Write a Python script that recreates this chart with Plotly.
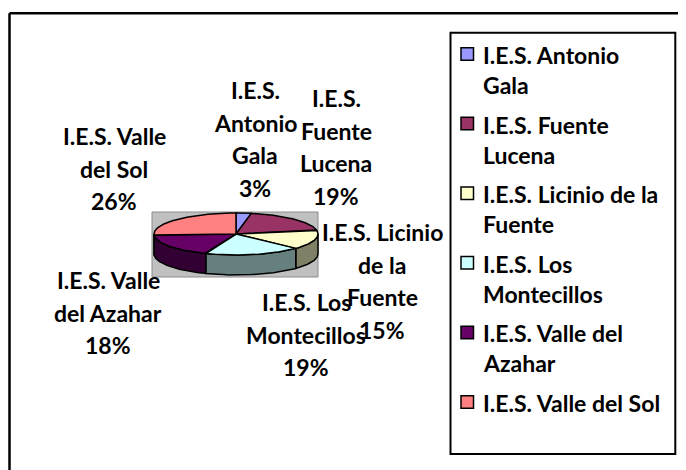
import numpy as np
import plotly.graph_objects as go

# ---------------- data ----------------
schools = [
    "I.E.S. Antonio Gala",
    "I.E.S. Fuente Lucena",
    "I.E.S. Licinio de la Fuente",
    "I.E.S. Los Montecillos",
    "I.E.S. Valle del Azahar",
    "I.E.S. Valle del Sol",
]
shares = [3, 19, 15, 19, 18, 26]  # percent
top_colors = ["#9999FF", "#993366", "#FFFFCC", "#CCFFFF", "#660066", "#FF8080"]

# Excel's word wrapping (words per line) for data labels and legend entries
label_wrap = [[1, 1, 1], [1, 1, 1], [2, 2, 1], [2, 1], [2, 2], [2, 2]]
legend_wrap = [[2, 1], [2, 1], [4, 1], [2, 1], [3, 1], [4]]

# ---------------- layout constants (page pixels) ----------------
W, H = 686, 470
BODY = 8  # default page margin of the html body
CX, CY, RX, RY, DEPTH = 236, 234, 82, 21, 20
FONT = dict(family="Lato, 'Open Sans', sans-serif", size=23, color="black", weight="bold")
LABEL_ANCHORS = [(255, 90), (336, 98), (382, 232), (306, 302), (108, 280), (114, 136)]
LABEL_PITCH = 32.5
LEG_BOX = (450.5, 32.8, 675.3, 454)
LEG_SQ_X, LEG_TXT_X, LEG_Y0, LEG_ITEM, LEG_LINE, SQ = 461, 481, 55, 69.6, 30, 12.5


def shade(hexcol, f=0.5):
    h = hexcol.lstrip("#")
    r, g, b = (int(h[i:i + 2], 16) for i in (0, 2, 4))
    return "#%02X%02X%02X" % (round(r * f), round(g * f), round(b * f))


def wrap(text, counts):
    words = text.split()
    out, i = [], 0
    for c in counts:
        out.append(" ".join(words[i:i + c]))
        i += c
    return out


def rim(theta_deg, dy=0.0):
    t = np.radians(theta_deg)
    return CX + RX * np.sin(t), CY - RY * np.cos(t) + dy


fig = go.Figure()

total = float(sum(shares))
bounds = np.concatenate([[0.0], np.cumsum(shares) / total * 360.0])

# side faces (front half only: 90..270 degrees)
for i, col in enumerate(top_colors):
    a, b = max(bounds[i], 90.0), min(bounds[i + 1], 270.0)
    if b <= a:
        continue
    th = np.linspace(a, b, 60)
    xt, yt = rim(th)
    xb, yb = rim(th[::-1], DEPTH)
    fig.add_trace(go.Scatter(
        x=np.concatenate([xt, xb, xt[:1]]), y=np.concatenate([yt, yb, yt[:1]]),
        mode="lines", fill="toself", fillcolor=shade(col),
        line=dict(color="black", width=1.5), hoverinfo="skip", showlegend=False))

# top faces
for i, col in enumerate(top_colors):
    th = np.linspace(bounds[i], bounds[i + 1], 80)
    xt, yt = rim(th)
    fig.add_trace(go.Scatter(
        x=np.concatenate([[CX], xt, [CX]]), y=np.concatenate([[CY], yt, [CY]]),
        mode="lines", fill="toself", fillcolor=col,
        line=dict(color="black", width=1.5), name=schools[i],
        hoverinfo="name", showlegend=False))

annotations = []
# data labels
for i, name in enumerate(schools):
    lines = wrap(name, label_wrap[i]) + ["%d%%" % round(shares[i] / total * 100)]
    x0, y0 = LABEL_ANCHORS[i]
    for k, ln in enumerate(lines):
        annotations.append(dict(x=x0, y=y0 + k * LABEL_PITCH, xref="x", yref="y",
                                text=ln, showarrow=False, xanchor="center",
                                yanchor="middle", font=FONT))

shapes = [
    # plot area (grey)
    dict(type="rect", xref="x", yref="y", x0=152, y0=212, x1=318, y1=277,
         fillcolor="#C0C0C0", line=dict(color="#8C8C8C", width=1), layer="below"),
    # chart border (top and left, the rest lies outside the picture)
    dict(type="line", xref="x", yref="y", x0=9.5, y0=13.3, x1=W + 5, y1=13.3,
         line=dict(color="black", width=2.5)),
    dict(type="line", xref="x", yref="y", x0=9.5, y0=13.3, x1=9.5, y1=H + 5,
         line=dict(color="black", width=2.5)),
    # legend box
    dict(type="rect", xref="x", yref="y", x0=LEG_BOX[0], y0=LEG_BOX[1],
         x1=LEG_BOX[2], y1=LEG_BOX[3], line=dict(color="black", width=2),
         fillcolor="rgba(0,0,0,0)"),
]

# legend entries
for i, name in enumerate(schools):
    yc = LEG_Y0 + i * LEG_ITEM
    shapes.append(dict(type="rect", xref="x", yref="y",
                       x0=LEG_SQ_X, x1=LEG_SQ_X + SQ, y0=yc - SQ / 2 - 1, y1=yc + SQ / 2 - 1,
                       fillcolor=top_colors[i], line=dict(color="black", width=1.5)))
    for k, ln in enumerate(wrap(name, legend_wrap[i])):
        annotations.append(dict(x=LEG_TXT_X, y=yc + k * LEG_LINE, xref="x", yref="y",
                                text=ln, showarrow=False, xanchor="left",
                                yanchor="middle", font=FONT))

fig.update_layout(
    width=W - BODY, height=H - BODY, margin=dict(l=0, r=0, t=0, b=0),
    paper_bgcolor="white", plot_bgcolor="white",
    xaxis=dict(range=[BODY, W], visible=False, fixedrange=True),
    yaxis=dict(range=[H, BODY], visible=False, fixedrange=True),
    shapes=shapes, annotations=annotations, showlegend=False,
)

fig.write_html("out.html", config={"displayModeBar": False})
